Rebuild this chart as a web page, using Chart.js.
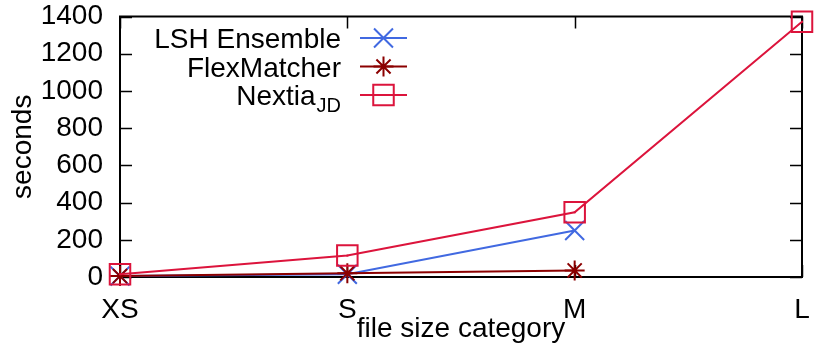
<!DOCTYPE html>
<html>
<head>
<meta charset="utf-8">
<script src="https://cdn.jsdelivr.net/npm/chart.js@4.4.1/dist/chart.umd.min.js"></script>
<style>
html, body { margin: 0; padding: 0; background: #fff; }
#wrap { width: 830px; height: 346px; }
</style>
</head>
<body>
<div id="wrap"><canvas id="chart"></canvas></div>
<script>
// values (seconds)
var categories = ['XS', 'S', 'M', 'L'];
var lshEnsemble = [5, 15, 250, null];
var flexMatcher = [5, 20, 35, null];
var nextiaJD = [15, 115, 348, 1372];
var yTicks = [0, 200, 400, 600, 800, 1000, 1200, 1400];

var FONT = '"Liberation Sans", Arial, Helvetica, sans-serif';
var font28 = { family: FONT, size: 28 };

// legend rows, subscript kept apart
var legendRows = [
	{ text: 'LSH Ensemble', sub: '', ds: 0 },
	{ text: 'FlexMatcher', sub: '', ds: 1 },
	{ text: 'Nextia', sub: 'JD', ds: 2 }
];

function pointOpts(ds) {
	return {
		pointStyle: ds.pointStyle,
		radius: ds.pointRadius,
		rotation: 0,
		borderWidth: ds.pointBorderWidth
	};
}

var framePlugin = {
	id: 'frame',
	beforeDatasetsDraw: function(chart){
		var ctx = chart.ctx, a = chart.chartArea;
		var x = chart.scales.x, y = chart.scales.y;
		ctx.save();
		ctx.strokeStyle = '#000';
		ctx.lineWidth = 1.5;
		// inward ticks, mirrored on the other side
		yTicks.forEach(function(v){
			var py = Math.round(y.getPixelForValue(v)) + 0.5;
			ctx.beginPath();
			ctx.moveTo(a.left, py); ctx.lineTo(a.left + 12, py);
			ctx.moveTo(a.right, py); ctx.lineTo(a.right - 12, py);
			ctx.stroke();
		});
		categories.forEach(function(c, i){
			var px = Math.round(x.getPixelForTick(i)) + 0.5;
			ctx.beginPath();
			ctx.moveTo(px, a.top); ctx.lineTo(px, a.top + 12);
			ctx.moveTo(px, a.bottom); ctx.lineTo(px, a.bottom - 12);
			ctx.stroke();
		});
		ctx.lineWidth = 2;
		ctx.strokeRect(a.left, a.top, a.right - a.left, a.bottom - a.top);
		ctx.restore();
	},
	afterDatasetsDraw: function(chart){
		// small dot in the middle of the Nextia squares
		var ctx = chart.ctx;
		var ds = chart.data.datasets[2];
		ctx.save();
		ctx.fillStyle = ds.borderColor;
		chart.getDatasetMeta(2).data.forEach(function(p){
			if (p.skip) return;
			ctx.fillRect(p.x - 1, p.y - 1, 2, 2);
		});
		ctx.restore();
	},
	afterDraw: function(chart){
		var ctx = chart.ctx;
		var textRight = 341, lineL = 360, lineR = 407, top = 38, step = 28.5;
		ctx.save();
		legendRows.forEach(function(r, i){
			var ds = chart.data.datasets[r.ds];
			var cy = top + i * step;
			var mx = (lineL + lineR) / 2;
			ctx.fillStyle = '#000';
			ctx.textAlign = 'right';
			ctx.textBaseline = 'alphabetic';
			var right = textRight;
			if (r.sub) {
				ctx.font = '20px ' + FONT;
				ctx.fillText(r.sub, right, cy + 17);
				right -= ctx.measureText(r.sub).width + 1;
			}
			ctx.font = '28px ' + FONT;
			ctx.fillText(r.text, right, cy + 10);
			ctx.strokeStyle = ds.borderColor;
			ctx.lineWidth = ds.borderWidth;
			ctx.beginPath();
			ctx.moveTo(lineL, cy); ctx.lineTo(lineR, cy);
			ctx.stroke();
			ctx.lineWidth = ds.pointBorderWidth;
			ctx.fillStyle = 'rgba(0,0,0,0)';
			Chart.helpers.drawPoint(ctx, pointOpts(ds), mx, cy);
			if (r.ds === 2) {
				ctx.fillStyle = ds.borderColor;
				ctx.fillRect(mx - 1, cy - 1, 2, 2);
			}
		});
		ctx.restore();
	}
};

function series(label, data, color, style, radius, order) {
	return {
		label: label,
		data: data,
		borderColor: color,
		backgroundColor: 'rgba(0,0,0,0)',
		pointBorderColor: color,
		pointBackgroundColor: 'rgba(0,0,0,0)',
		borderWidth: 2,
		pointBorderWidth: 2,
		pointStyle: style,
		pointRadius: radius,
		pointHoverRadius: radius,
		tension: 0,
		spanGaps: false,
		clip: false,
		order: order
	};
}

new Chart(document.getElementById('chart'), {
	type: 'line',
	data: {
		labels: categories,
		datasets: [
			series('LSH Ensemble', lshEnsemble, '#4169e1', 'crossRot', 13.4, 2),
			series('FlexMatcher', flexMatcher, '#8b0000', 'star', 10, 1),
			series('NextiaJD', nextiaJD, '#dc143c', 'rect', 14.5, 0)
		]
	},
	options: {
		responsive: true,
		maintainAspectRatio: false,
		animation: false,
		events: [],
		layout: { padding: { top: 13, right: 28, left: 0, bottom: 0 } },
		plugins: {
			legend: { display: false },
			tooltip: { enabled: false }
		},
		scales: {
			x: {
				type: 'category',
				offset: false,
				grid: { display: false },
				border: { display: false },
				ticks: { font: font28, color: '#000', padding: 8, maxRotation: 0, autoSkip: false },
				title: { display: true, text: 'file size category', font: font28, color: '#000', padding: { top: 0, bottom: 0 } },
				afterFit: function(s){ s.height = 69; s.paddingLeft = 0; s.paddingRight = 0; }
			},
			y: {
				min: yTicks[0],
				max: yTicks[yTicks.length - 1],
				grid: { display: false },
				border: { display: false },
				ticks: {
					font: font28, color: '#000', padding: 9, autoSkip: false,
					callback: function(v){ return String(v); }
				},
				afterBuildTicks: function(s){ s.ticks = yTicks.map(function(v){ return { value: v }; }); },
				title: { display: true, text: 'seconds', font: font28, color: '#000', padding: { top: 6, bottom: 0 } },
				afterFit: function(s){ s.width = 120; s.paddingTop = 0; s.paddingBottom = 0; }
			}
		}
	},
	plugins: [framePlugin]
});
</script>
</body>
</html>
